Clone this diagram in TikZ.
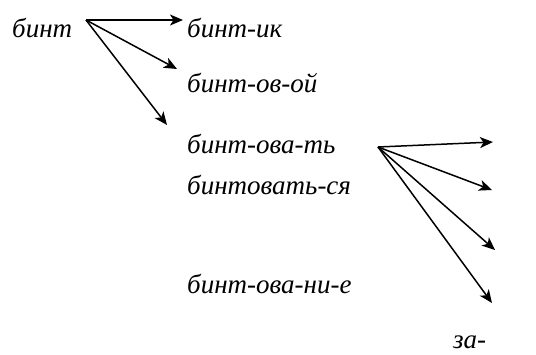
\documentclass[tikz,border=0pt]{standalone}
\usepackage{fontspec}
\setmainfont{Liberation Serif}
\usetikzlibrary{arrows.meta}
\begin{document}
\begin{tikzpicture}[x=1pt,y=-1pt,
  word/.style={anchor=base west,inner sep=0pt,font=\fontsize{27}{32}\selectfont\itshape},
  arr/.style={-{Stealth[length=13pt,width=11pt,inset=3.5pt]},line width=1.5pt}]
\useasboundingbox (0,0) rectangle (536,354);
\node[word] (w0) at (12,37) {бинт};
\node[word] (w1) at (187,37) {бинт-ик};
\node[word] (w2) at (187,92) {бинт-ов-ой};
\node[word] (w3) at (187,153) {бинт-ова-ть};
\node[word] (w4) at (187,194) {бинтовать-ся};
\node[word] (w5) at (187,293) {бинт-ова-ни-е};
\node[word] (w6) at (453,348) {за-};
\coordinate (o1) at (86,20);
\coordinate (t1) at (183,20);
\coordinate (t2) at (177,69);
\coordinate (t3) at (167,125);
\draw[arr] (o1) -- (t1);
\draw[arr] (o1) -- (t2);
\draw[arr] (o1) -- (t3);
\coordinate (o2) at (378,147);
\coordinate (u1) at (493,142);
\coordinate (u2) at (492,190);
\coordinate (u3) at (495,250);
\coordinate (u4) at (492,303);
\draw[arr] (o2) -- (u1);
\draw[arr] (o2) -- (u2);
\draw[arr] (o2) -- (u3);
\draw[arr] (o2) -- (u4);
\end{tikzpicture}
\end{document}
